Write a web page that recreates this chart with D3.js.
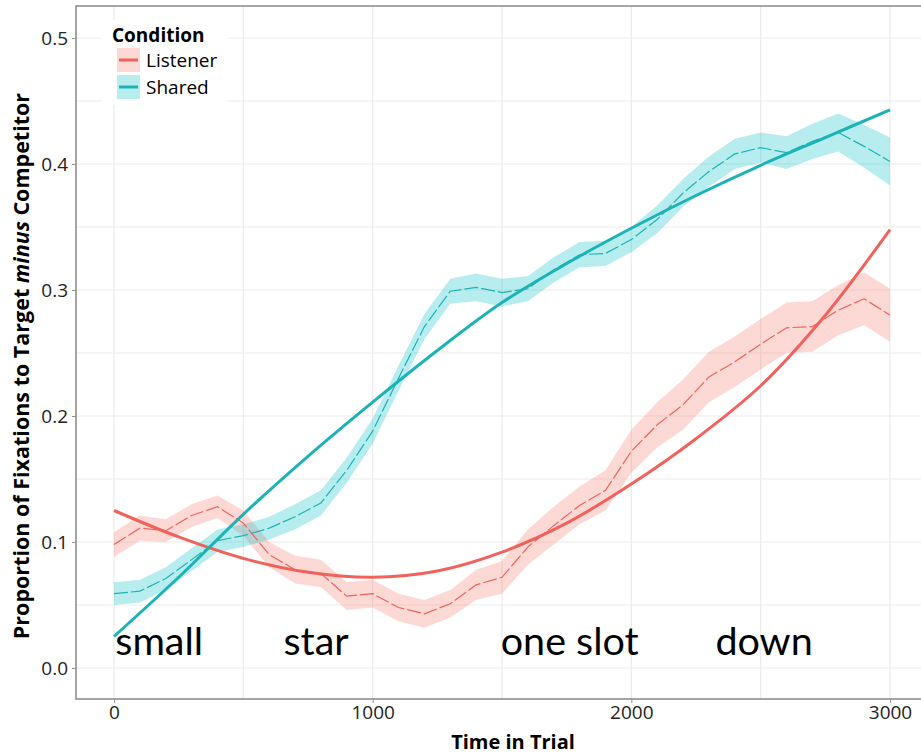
<!DOCTYPE html>
<html>
<head>
<meta charset="utf-8">
<script src="https://cdn.jsdelivr.net/npm/d3@7"></script>
<style>
  body { margin: 0; background: #fff; }
  svg { display: block; }
</style>
</head>
<body>
<div id="plot_area"></div>
<script>
// Canvas size
const w = 921;
const h = 755;

// Time points (ms) of the observed means
const times = d3.range(0, 3001, 100);

// Observed mean proportion, Listener condition
const listenerMean = [0.098, 0.111, 0.109, 0.121, 0.128, 0.115, 0.090, 0.078, 0.075, 0.057,
                      0.059, 0.048, 0.043, 0.051, 0.066, 0.072, 0.096, 0.113, 0.129, 0.141,
                      0.172, 0.193, 0.209, 0.231, 0.243, 0.257, 0.270, 0.271, 0.284, 0.293, 0.280];
const listenerSE = [0.010, 0.010, 0.009, 0.009, 0.009, 0.010, 0.010, 0.011, 0.011, 0.011,
                    0.011, 0.011, 0.011, 0.011, 0.012, 0.013, 0.014, 0.015, 0.015, 0.016,
                    0.017, 0.018, 0.020, 0.020, 0.020, 0.020, 0.020, 0.020, 0.020, 0.021, 0.021];

// Observed mean proportion, Shared condition
const sharedMean = [0.059, 0.061, 0.071, 0.086, 0.101, 0.105, 0.111, 0.120, 0.131, 0.157,
                    0.188, 0.230, 0.271, 0.299, 0.302, 0.298, 0.301, 0.316, 0.328, 0.329,
                    0.340, 0.356, 0.377, 0.394, 0.408, 0.413, 0.409, 0.418, 0.425, 0.414, 0.402];
const sharedSE = [0.009, 0.009, 0.009, 0.009, 0.009, 0.009, 0.009, 0.010, 0.010, 0.010,
                  0.010, 0.010, 0.010, 0.010, 0.011, 0.011, 0.010, 0.010, 0.010, 0.010,
                  0.010, 0.011, 0.011, 0.012, 0.012, 0.012, 0.013, 0.014, 0.015, 0.017, 0.019];

// Fitted growth curves (read every 250 ms)
const fitTimes = d3.range(0, 3001, 250);
const listenerFit = [0.125, 0.104, 0.087, 0.076, 0.072, 0.077, 0.092, 0.115, 0.146, 0.182, 0.224, 0.280, 0.348];
const sharedFit = [0.025, 0.072, 0.122, 0.168, 0.211, 0.252, 0.290, 0.321, 0.349, 0.375, 0.399, 0.421, 0.443];

// Word labels along the time axis
const words = ['small', 'star', 'one slot', 'down'];
const wordTimes = [5, 655, 1495, 2325];

// Axis ticks
const xTicks = [0, 1000, 2000, 3000];
const xMinor = [500, 1500, 2500];
const yTicks = [0, 0.1, 0.2, 0.3, 0.4, 0.5];
const yMinor = [0.05, 0.15, 0.25, 0.35, 0.45];

const conditions = ['Listener', 'Shared'];
const lineColor = { Listener: '#f0625b', Shared: '#1db3b6' };
const fillColor = { Listener: '#f8766d', Shared: '#00bfc4' };

const wordFont = 'Lato, "Open Sans", sans-serif';
const axisFont = '"Open Sans", sans-serif';

// Scales: panel runs past the right edge of the picture
const xScale = d3.scaleLinear().domain([0, 3000]).range([114, 890]);
const yScale = d3.scaleLinear().domain([0, 0.5]).range([668, 38]);
const panel = { x0: 76, x1: 930, y0: 6, y1: 699 };

const svg = d3.select('#plot_area')
  .append('svg')
  .attr('width', w)
  .attr('height', h);

// Grid lines
const grid = svg.append('g');
grid.selectAll('.vgrid')
  .data(xTicks.concat(xMinor))
  .enter().append('line')
  .attr('x1', d => xScale(d)).attr('x2', d => xScale(d))
  .attr('y1', panel.y0).attr('y2', panel.y1)
  .attr('stroke', '#ebebeb').attr('stroke-width', 1.2);
grid.selectAll('.hgrid')
  .data(yTicks.concat(yMinor))
  .enter().append('line')
  .attr('x1', panel.x0).attr('x2', panel.x1)
  .attr('y1', d => yScale(d)).attr('y2', d => yScale(d))
  .attr('stroke', '#ebebeb').attr('stroke-width', 1.2);

// Build series from the arrays
const series = {
  Listener: times.map((t, i) => ({ t: t, m: listenerMean[i], se: listenerSE[i] })),
  Shared: times.map((t, i) => ({ t: t, m: sharedMean[i], se: sharedSE[i] }))
};
const fits = {
  Listener: fitTimes.map((t, i) => ({ t: t, v: listenerFit[i] })),
  Shared: fitTimes.map((t, i) => ({ t: t, v: sharedFit[i] }))
};

const area = d3.area()
  .x(d => xScale(d.t))
  .y0(d => yScale(d.m - d.se))
  .y1(d => yScale(d.m + d.se));

const meanLine = d3.line()
  .x(d => xScale(d.t))
  .y(d => yScale(d.m));

const fitLine = d3.line()
  .curve(d3.curveCatmullRom)
  .x(d => xScale(d.t))
  .y(d => yScale(d.v));

// Ribbons
conditions.forEach(c => {
  svg.append('path')
    .datum(series[c])
    .attr('fill', fillColor[c])
    .attr('fill-opacity', 0.28)
    .attr('d', area);
});

// Dashed observed means
conditions.forEach(c => {
  svg.append('path')
    .datum(series[c])
    .attr('fill', 'none')
    .attr('stroke', lineColor[c])
    .attr('stroke-width', 1.2)
    .attr('stroke-dasharray', '14,3')
    .attr('d', meanLine);
});

// Solid fitted curves
conditions.forEach(c => {
  svg.append('path')
    .datum(fits[c])
    .attr('fill', 'none')
    .attr('stroke', lineColor[c])
    .attr('stroke-width', 3)
    .attr('d', fitLine);
});

// Word annotations
svg.selectAll('.word')
  .data(words)
  .enter().append('text')
  .attr('x', (d, i) => xScale(wordTimes[i]))
  .attr('y', 655)
  .style('font-family', wordFont)
  .style('font-size', '39.5px')
  .attr('fill', '#000')
  .text(d => d);

// Panel border
svg.append('rect')
  .attr('x', panel.x0).attr('y', panel.y0)
  .attr('width', panel.x1 - panel.x0).attr('height', panel.y1 - panel.y0)
  .attr('fill', 'none')
  .attr('stroke', '#8f8f8f')
  .attr('stroke-width', 1.6);

// x-axis
const xAxis = svg.append('g')
  .attr('transform', 'translate(0,' + panel.y1 + ')')
  .call(d3.axisBottom(xScale).tickValues(xTicks).tickSize(4).tickPadding(3).tickFormat(d3.format('d')));
xAxis.select('.domain').remove();
xAxis.selectAll('line').attr('stroke', '#8f8f8f');
xAxis.selectAll('text')
  .style('font-family', axisFont)
  .style('font-size', '19px')
  .attr('fill', '#222');

// y-axis
const yAxis = svg.append('g')
  .attr('transform', 'translate(' + panel.x0 + ',0)')
  .call(d3.axisLeft(yScale).tickValues(yTicks).tickSize(4).tickPadding(4).tickFormat(d3.format('.1f')));
yAxis.select('.domain').remove();
yAxis.selectAll('line').attr('stroke', '#8f8f8f');
yAxis.selectAll('text')
  .style('font-family', axisFont)
  .style('font-size', '19px')
  .attr('fill', '#222');

// x-axis label
svg.append('text')
  .attr('x', 513)
  .attr('y', 749)
  .attr('text-anchor', 'middle')
  .style('font-family', axisFont)
  .style('font-size', '20px')
  .style('font-weight', 'bold')
  .text('Time in Trial');

// y-axis label
const yLab = svg.append('text')
  .attr('text-anchor', 'middle')
  .attr('transform', 'translate(29,' + 366 + ')rotate(-90)')
  .style('font-family', axisFont)
  .style('font-size', '21.5px')
  .style('font-weight', 'bold');
yLab.append('tspan').text('Proportion of Fixations to Target ');
yLab.append('tspan').style('font-style', 'italic').text('minus');
yLab.append('tspan').text(' Competitor');

// Legend
const legend = svg.append('g').attr('transform', 'translate(101,20)');
legend.append('rect')
  .attr('x', 0).attr('y', 0).attr('width', 127).attr('height', 85)
  .attr('fill', '#fff');
legend.append('text')
  .attr('x', 11).attr('y', 22)
  .style('font-family', axisFont)
  .style('font-size', '19px')
  .style('font-weight', 'bold')
  .text('Condition');
conditions.forEach((c, i) => {
  const g = legend.append('g').attr('transform', 'translate(16,' + (28 + i * 27) + ')');
  g.append('rect')
    .attr('width', 23).attr('height', 24)
    .attr('fill', fillColor[c]).attr('fill-opacity', 0.28);
  g.append('line')
    .attr('x1', 2).attr('x2', 21).attr('y1', 12).attr('y2', 12)
    .attr('stroke', lineColor[c]).attr('stroke-width', 3);
  g.append('text')
    .attr('x', 29).attr('y', 19)
    .style('font-family', axisFont)
    .style('font-size', '19px')
    .text(c);
});
</script>
</body>
</html>
